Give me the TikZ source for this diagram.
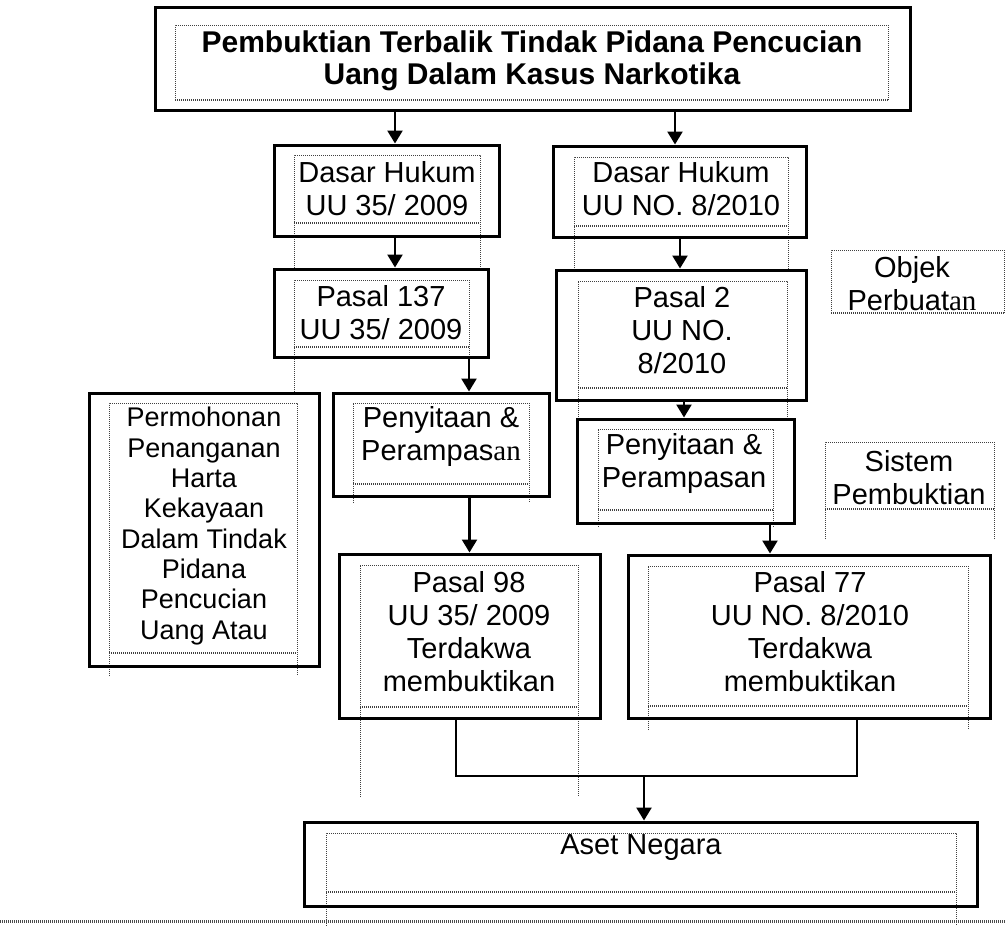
\documentclass[tikz,border=0pt]{standalone}
\usepackage{fontspec}
\setmainfont{Liberation Sans}
\newfontfamily\serifan{Liberation Serif}
\usetikzlibrary{arrows.meta}
\tikzset{
  outerbox/.style={draw, line width=3pt, inner sep=0pt},
  dotbox/.style={draw=black!75, line width=0.8pt, dash pattern=on 1pt off 1pt},
  dotbot/.style={draw=black!75, line width=1.8pt, dash pattern=on 1pt off 1pt},
  txt/.style={align=center, inner sep=0pt, font=\fontsize{29pt}{33pt}\selectfont},
  conn/.style={line width=2.5pt},
  arr/.style={line width=2.5pt, -{Triangle[length=13pt,width=15pt]}},
}
\newcommand\dottedframe[5]{%
  \draw[dotbox] (#1,#5) -- (#1,#2) -- (#3,#2) -- (#3,#5);
  \draw[dotbot] (#1,#4) -- (#3,#4);}
\begin{document}
\begin{tikzpicture}[x=1pt,y=-1pt]
\useasboundingbox (0,0) rectangle (1005,926);
\fill[white] (0,0) rectangle (1005,926);

% dotted inner frames
\dottedframe{175}{25}{888}{100}{100}
\dottedframe{294}{155}{480}{223}{268}
\dottedframe{574}{157}{788}{226}{270}
\dottedframe{294}{280}{469}{347}{357}
\draw[dotbox] (294,357) -- (294,392);
\dottedframe{578}{281}{787}{388}{417}
\dottedframe{353}{403}{529}{484}{503}
\dottedframe{598}{429}{773}{510}{527}
\dottedframe{109}{403}{297}{653}{676}
\dottedframe{360}{565}{578}{707}{797}
\dottedframe{648}{566}{968}{706}{730}
\dottedframe{326}{833}{956}{892}{926}
\dottedframe{831}{250}{1004}{313}{313}
\dottedframe{825}{442}{994}{509}{539}
\draw[line width=3pt, black!70, dash pattern=on 1pt off 1pt] (0,921) -- (1005,921);

% outer boxes
\node[outerbox, minimum width=755pt, minimum height=103pt] (title) at (532.5,58.5) {};
\node[outerbox, minimum width=225pt, minimum height=91pt] (dl) at (386.5,190.5) {};
\node[outerbox, minimum width=253pt, minimum height=91pt] (dr) at (679.5,191.5) {};
\node[outerbox, minimum width=214pt, minimum height=88pt] (p137) at (381,313) {};
\node[outerbox, minimum width=250pt, minimum height=130pt] (p2) at (681,335) {};
\node[outerbox, minimum width=216pt, minimum height=103pt] (sl) at (441,444.5) {};
\node[outerbox, minimum width=217pt, minimum height=104pt] (sr) at (685.5,471) {};
\node[outerbox, minimum width=230pt, minimum height=273pt] (perm) at (204,529.5) {};
\node[outerbox, minimum width=261pt, minimum height=164pt] (p98) at (469.5,636) {};
\node[outerbox, minimum width=362pt, minimum height=163pt] (p77) at (809,636.5) {};
\node[outerbox, minimum width=673pt, minimum height=84pt] (aset) at (640.5,864) {};

% texts
\node[txt, font=\bfseries\fontsize{30pt}{32pt}\selectfont] (ttitle) at (532,61)
  {Pembuktian Terbalik Tindak Pidana Pencucian\\Uang Dalam Kasus Narkotika};
\node[txt] (tdl) at (387,188.5) {Dasar Hukum\\UU 35/ 2009};
\node[txt] (tdr) at (681,188.5) {Dasar Hukum\\UU NO. 8/2010};
\node[txt] (tp137) at (381,313) {Pasal 137\\UU 35/ 2009};
\node[txt] (tp2) at (682,330) {Pasal 2\\UU NO.\\8/2010};
\node[txt] (tsl) at (441,436) {Penyitaan \&\\Perampas{\serifan an}};
\node[txt] (tsr) at (684,463) {Penyitaan \&\\Perampasan};
\node[txt, font=\fontsize{27pt}{30.3pt}\selectfont] (tperm) at (204,526)
  {Permohonan\\Penanganan\\Harta\\Kekayaan\\Dalam Tindak\\Pidana\\Pencucian\\Uang Atau};
\node[txt] (tp98) at (469,632) {Pasal 98\\UU 35/ 2009\\Terdakwa\\membuktikan};
\node[txt] (tp77) at (810,632) {Pasal 77\\UU NO. 8/2010\\Terdakwa\\membuktikan};
\node[txt] (taset) at (641,848) {Aset Negara};
\node[txt] (tobjek) at (912,284) {Objek\\Perbuat{\serifan an}};
\node[txt] (tsistem) at (909,477.5) {Sistem\\Pembuktian};

% connectors
\draw[arr] ([xshift=8.5pt]dl.north |- title.south) -- ([xshift=8.5pt]dl.north);
\draw[arr] ([xshift=-4.5pt]dr.north |- title.south) -- ([xshift=-4.5pt]dr.north);
\draw[arr] ([xshift=8.5pt]dl.south) -- ([xshift=8.5pt]dl.south |- p137.north);
\draw[arr] ([xshift=0.5pt]dr.south) -- ([xshift=0.5pt]dr.south |- p2.north);
\draw[arr] ([xshift=28pt]sl.north |- p137.south) -- ([xshift=28pt]sl.north);
\draw[arr] ([xshift=-1.5pt]sr.north |- p2.south) -- ([xshift=-1.5pt]sr.north);
\draw[arr] (p98.north |- sl.south) -- (p98.north);
\draw[arr] ([xshift=-39pt]p77.north |- sr.south) -- ([xshift=-39pt]p77.north);
\coordinate (j) at (644,776);
\draw[conn] ([xshift=-13.5pt]p98.south) |- (j) -| ([xshift=48pt]p77.south);
\draw[arr] (j) -- (j |- aset.north);
\end{tikzpicture}
\end{document}
